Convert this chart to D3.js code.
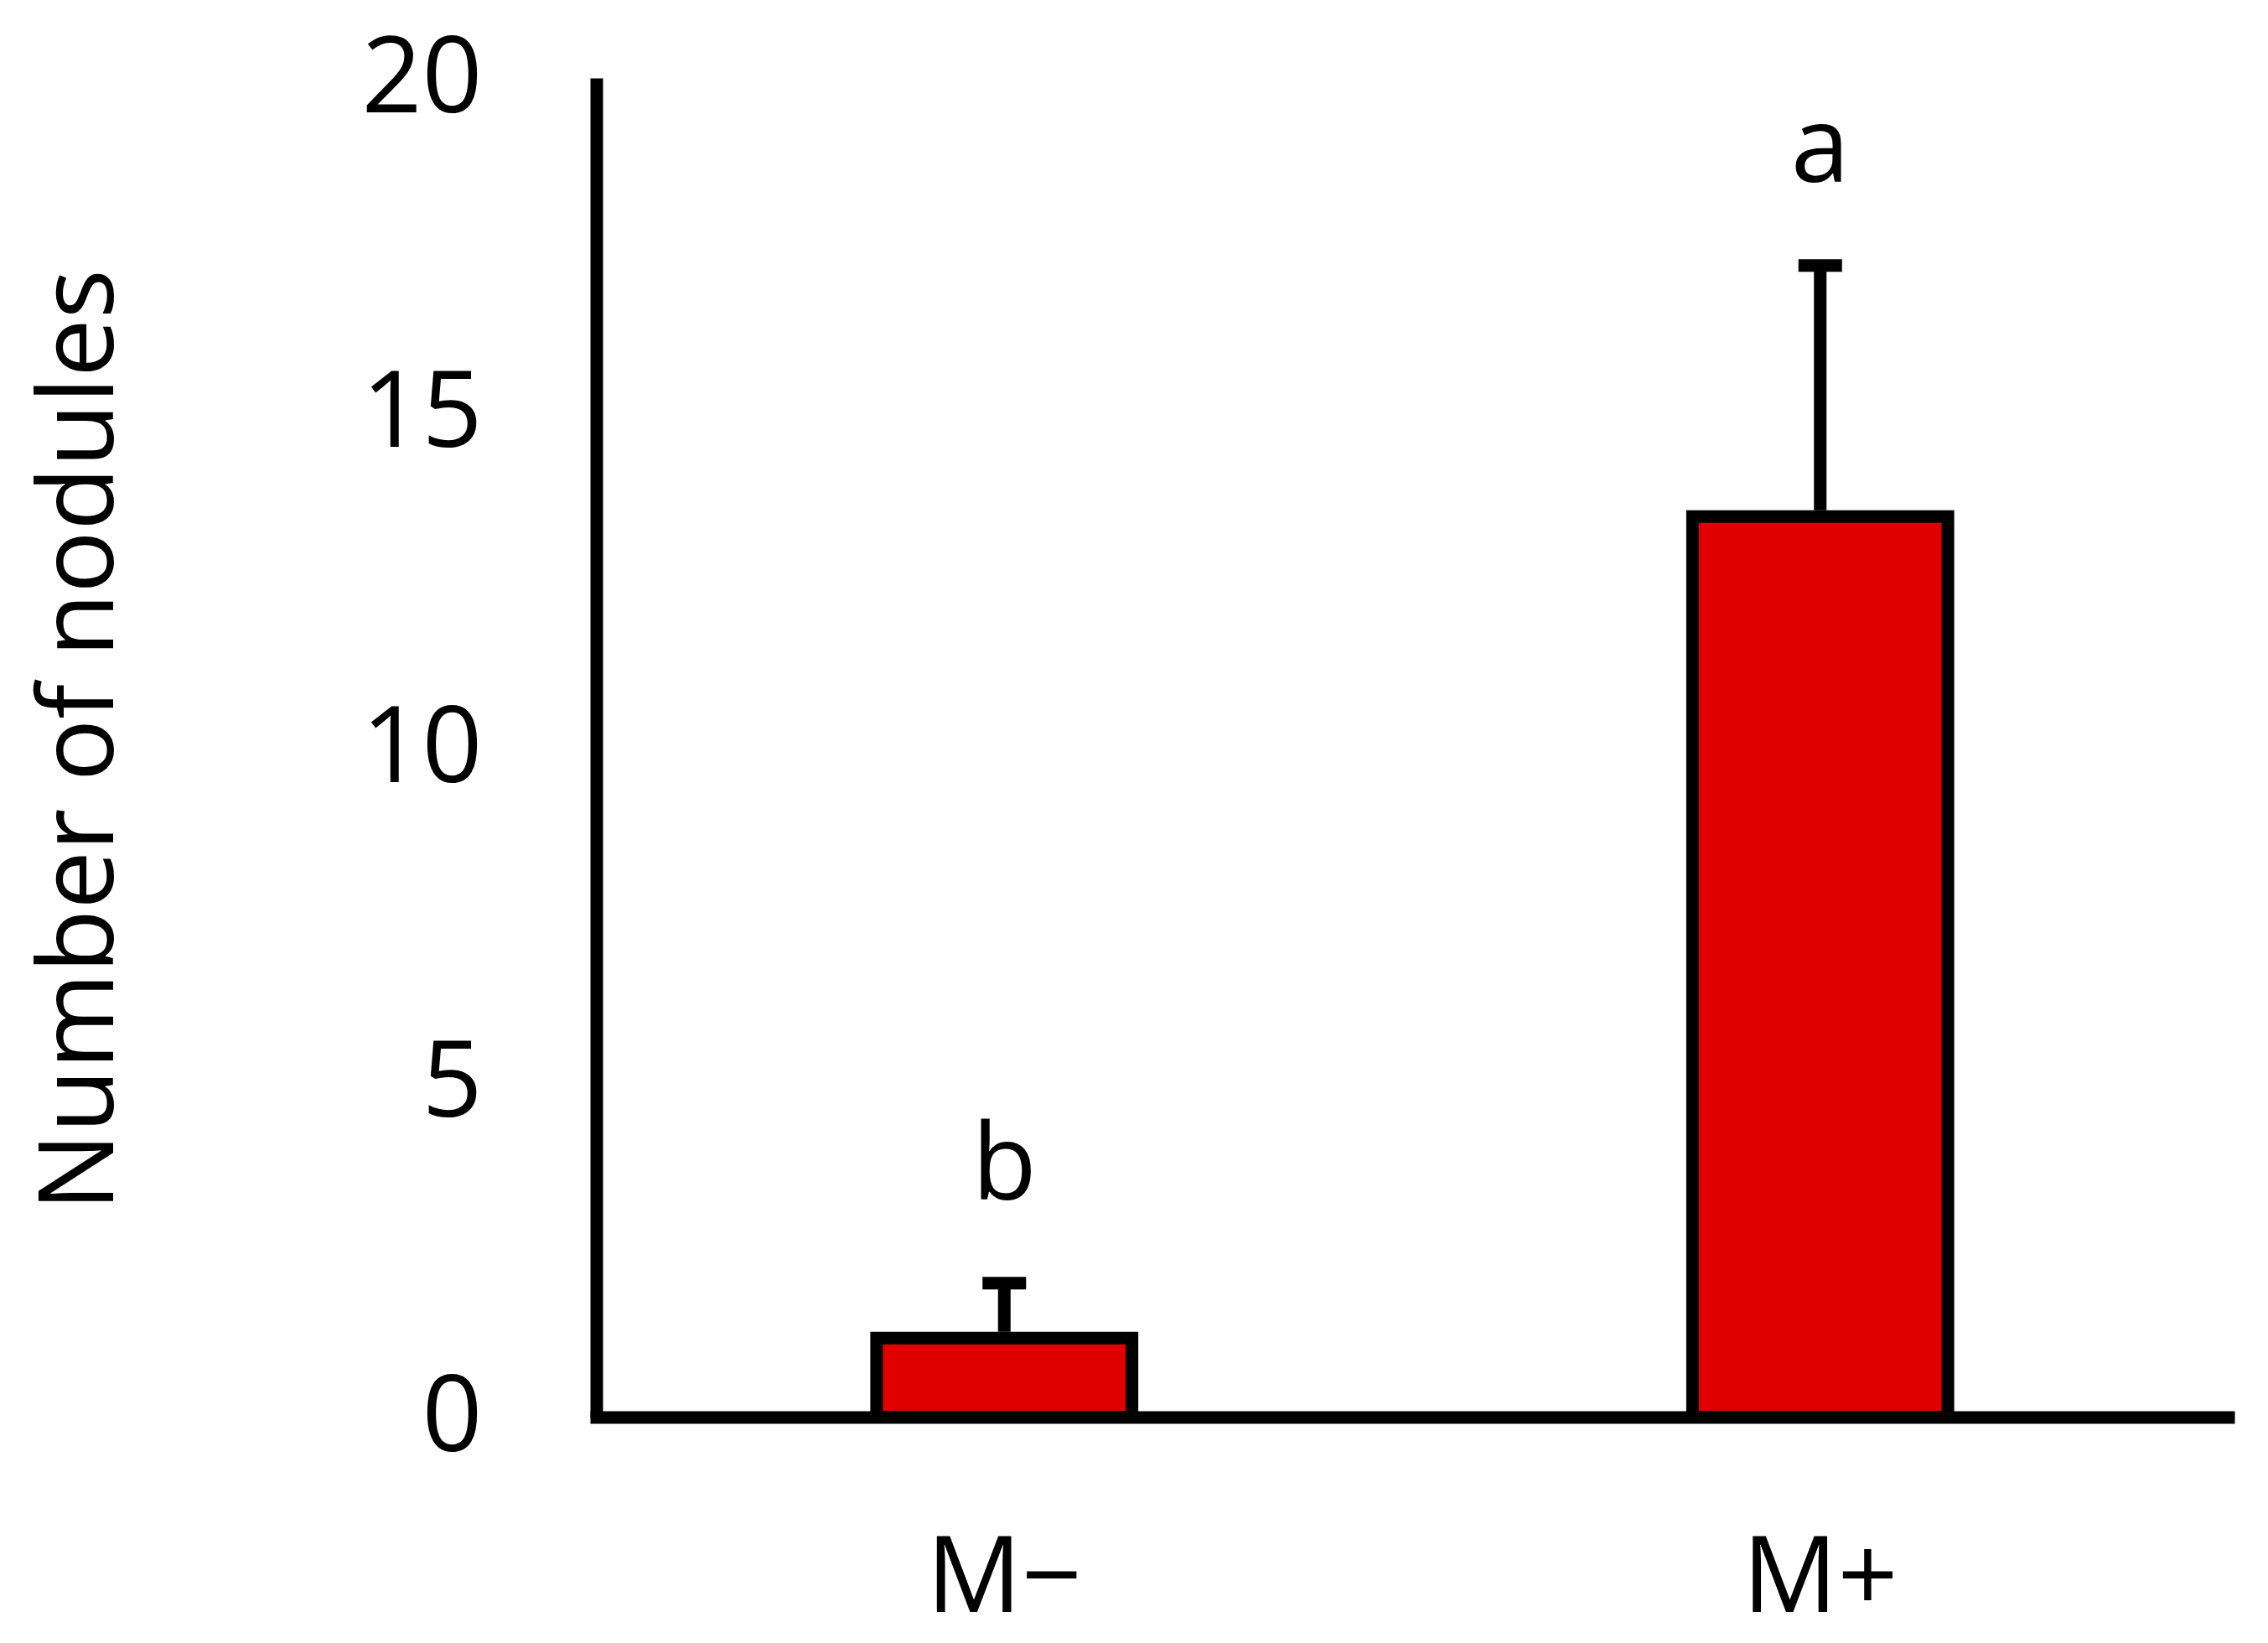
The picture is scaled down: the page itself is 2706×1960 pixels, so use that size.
<!DOCTYPE html>
<html>
<head>
<meta charset="utf-8">
<script src="https://cdn.jsdelivr.net/npm/d3@7"></script>
<style>
  html, body { margin: 0; padding: 0; background: #ffffff; }
  svg { display: block; }
  text { font-family: "Open Sans", "Noto Sans", sans-serif; fill: #000; }
</style>
</head>
<body>
<script>
// ---- data ----
const categories = ["M\u2212", "M+"];
const means = [1.18, 13.45];
const errors = [0.82, 3.75];
const letters = ["b", "a"];
const yTicks = [0, 5, 10, 15, 20];
const yLabel = "Number of nodules";

// ---- layout ----
const W = 2706, H = 1960;
const svg = d3.select("body").append("svg").attr("width", W).attr("height", H);

const x = d3.scaleBand().domain(categories).range([711.5, 2658.5]).padding(0);
const y = d3.scaleLinear().domain([0, 20]).range([1690.5, 93]);
const barW = x.bandwidth() * 0.313;
const fs = 126;

// bars
svg.append("g").selectAll("rect").data(categories).join("rect")
  .attr("x", d => x(d) + x.bandwidth() / 2 - barW / 2)
  .attr("y", (d, i) => y(means[i]))
  .attr("width", barW)
  .attr("height", (d, i) => y(0) - y(means[i]))
  .attr("fill", "#e00000")
  .attr("stroke", "#000")
  .attr("stroke-width", 15);

// error bars
const eg = svg.append("g").attr("stroke", "#000").attr("stroke-width", 15);
eg.selectAll("line.v").data(categories).join("line").attr("class", "v")
  .attr("x1", d => x(d) + x.bandwidth() / 2)
  .attr("x2", d => x(d) + x.bandwidth() / 2)
  .attr("y1", (d, i) => y(means[i]) - 7.5)
  .attr("y2", (d, i) => y(means[i] + errors[i]));
eg.selectAll("line.c").data(categories).join("line").attr("class", "c")
  .attr("x1", d => x(d) + x.bandwidth() / 2 - 26)
  .attr("x2", d => x(d) + x.bandwidth() / 2 + 26)
  .attr("y1", (d, i) => y(means[i] + errors[i]))
  .attr("y2", (d, i) => y(means[i] + errors[i]));

// significance letters
svg.append("g").selectAll("text").data(categories).join("text")
  .attr("x", d => x(d) + x.bandwidth() / 2)
  .attr("y", (d, i) => y(means[i] + errors[i]) - 100)
  .attr("text-anchor", "middle")
  .attr("font-size", fs)
  .text((d, i) => letters[i]);

// y axis
const yAxis = svg.append("g").attr("transform", "translate(711.5,0)")
  .call(d3.axisLeft(y).tickValues(yTicks).tickSize(0).tickSizeOuter(0).tickPadding(136).tickFormat(d3.format("d")));
yAxis.select(".domain").attr("stroke", "#000").attr("stroke-width", 15);
yAxis.selectAll("text").attr("font-size", fs).attr("font-family", "\"Open Sans\", sans-serif").attr("fill", "#000");

// x axis
const xAxis = svg.append("g").attr("transform", "translate(0,1690.5)")
  .call(d3.axisBottom(x).tickSize(0).tickSizeOuter(0).tickPadding(143));
xAxis.select(".domain").attr("stroke", "#000").attr("stroke-width", 15).attr("stroke-linecap", "square");
xAxis.selectAll("text").attr("font-size", fs).attr("font-family", "\"Open Sans\", sans-serif").attr("fill", "#000");

// y axis title
svg.append("text")
  .attr("transform", "translate(135,883) rotate(-90)")
  .attr("text-anchor", "middle")
  .attr("font-size", 124)
  .text(yLabel);
</script>
</body>
</html>
